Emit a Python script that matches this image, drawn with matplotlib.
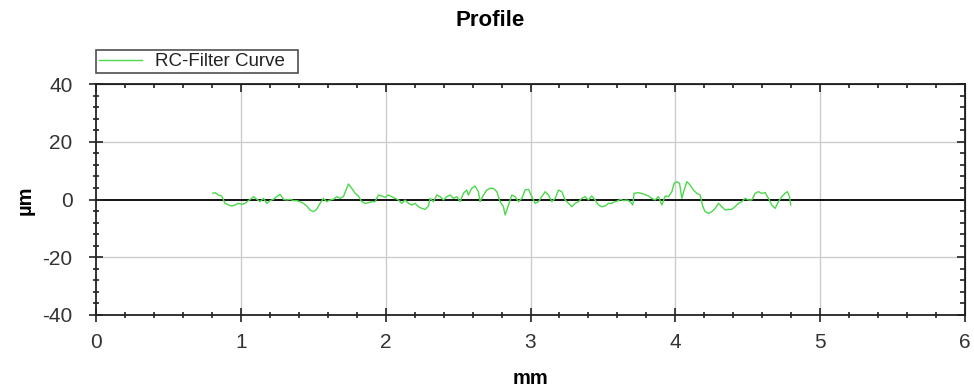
import matplotlib
matplotlib.use('Agg')
import matplotlib.pyplot as plt
from matplotlib.ticker import MultipleLocator

plt.rcParams['font.family'] = ['Liberation Sans', 'DejaVu Sans']
plt.rcParams['axes.unicode_minus'] = False

# profile data (mm, um)
x_mm = [0.806, 0.822, 0.845, 0.868, 0.891, 0.914, 0.937, 0.960, 0.983, 1.006,
        1.029, 1.052, 1.075, 1.087, 1.110, 1.133, 1.156, 1.179, 1.202, 1.225,
        1.248, 1.271, 1.294, 1.317, 1.340, 1.363, 1.386, 1.409, 1.432, 1.455,
        1.478, 1.501, 1.524, 1.547, 1.570, 1.593, 1.616, 1.639, 1.662,
        1.685, 1.708, 1.731, 1.743, 1.766, 1.789, 1.812, 1.835, 1.858, 1.881,
        1.904, 1.927, 1.950, 1.973, 1.996, 2.019, 2.042, 2.065, 2.088, 2.111,
        2.134, 2.157, 2.180, 2.203, 2.226, 2.249, 2.272, 2.295, 2.307, 2.330,
        2.353, 2.376, 2.399, 2.422, 2.445, 2.468, 2.491, 2.514, 2.537, 2.560,
        2.571, 2.594, 2.617, 2.640,
        2.652, 2.675, 2.698, 2.721, 2.744, 2.767, 2.790, 2.813, 2.825, 2.848,
        2.871, 2.894, 2.917, 2.940, 2.963, 2.986, 3.009, 3.032, 3.055, 3.078,
        3.101, 3.124, 3.147, 3.170, 3.193, 3.216, 3.239, 3.262, 3.285, 3.308,
        3.331, 3.354, 3.377, 3.400, 3.423, 3.446, 3.469, 3.492, 3.515, 3.538,
        3.561, 3.584, 3.607,
        3.619, 3.642, 3.665, 3.688, 3.706, 3.715, 3.745, 3.780, 3.814, 3.837,
        3.860, 3.883, 3.907, 3.930, 3.953, 3.976, 3.992, 4.010, 4.029, 4.045,
        4.061, 4.079, 4.102, 4.125, 4.148, 4.171, 4.190, 4.206, 4.229, 4.252,
        4.275, 4.298, 4.321, 4.344, 4.367, 4.390, 4.413, 4.436, 4.459, 4.482,
        4.505, 4.528, 4.551, 4.574, 4.597, 4.620, 4.643, 4.666, 4.689, 4.712,
        4.735, 4.758, 4.774, 4.788, 4.797]

y_um = [2.14, 2.37, 1.56, 1.21, -1.33, -1.90, -2.25, -1.90, -1.33, -1.67,
        -1.33, -0.40, 0.40, 0.98, 0.06, -0.75, 0.40, -1.33, -0.40, 0.06,
        0.98, 1.79, 0.06, -0.17, 0.06, -0.40, -0.40, -0.75, -1.33, -2.25,
        -3.64, -4.21, -3.41, -1.33, 0.40, -0.75, -0.17, 0.06, 0.98,
        0.40, 0.98, 3.87, 5.37, 3.87, 2.14, 1.21, -0.75, -1.33, -1.10,
        -0.75, -0.75, 1.56, 1.21, 0.75, 1.56, 0.98, 0.40, -0.17, -1.33,
        -0.17, -1.33, -1.90, -1.33, -2.48, -3.06, -3.41, -2.25, 0.40, -0.75,
        1.56, 0.98, -0.17, 0.98, 1.56, 0.40, 0.98, -0.75, 2.14, 3.29,
        1.56, 3.87, 4.67, 2.71,
        -0.75, 1.56, 3.29, 3.87, 3.87, 2.71, -0.75, -2.48, -5.37, -1.90,
        1.56, 0.98, -0.75, 0.40, 3.29, 3.52, 0.98, -1.33, -0.75, 0.98,
        2.71, 1.56, -0.75, 0.40, 3.29, 2.71, -0.17, -1.33, -2.48, -1.33,
        -0.75, 0.40, 0.98, -0.17, 1.21, -0.17, -1.90, -2.48, -2.25, -1.33,
        -1.33, -0.75, -0.40,
        0.06, -0.40, -0.17, -0.75, -1.90, 2.14, 2.37, 1.91, 1.21, 0.40,
        -0.17, 0.98, -1.90, 1.21, 0.98, 2.71, 5.60, 6.18, 5.60, 0.40,
        3.29, 6.18, 5.02, 3.29, 2.14, 1.56, -2.48, -4.21, -4.79, -4.21,
        -3.06, -1.33, -2.48, -3.64, -3.41, -3.41, -2.48, -1.33, -0.75, 0.40,
        -0.17, -0.17, 2.14, 2.71, 2.14, 2.37, 0.40, -1.90, -3.06, -0.75,
        0.98, 2.14, 2.71, 0.98, -1.90]

x_ticks = [0, 1, 2, 3, 4, 5, 6]
y_ticks = [-40, -20, 0, 20, 40]

fig = plt.figure(figsize=(9.74, 3.87), dpi=100)
ax = fig.add_axes([96 / 974, 1 - 315 / 387, 869 / 974, 231 / 387])

# grid and zero line
for gx in x_ticks[1:-1]:
    ax.axvline(gx, color='#cccccc', lw=1, zorder=0)
for gy in [-20, 20]:
    ax.axhline(gy, color='#cccccc', lw=1, zorder=0)
ax.axhline(0, color='#111111', lw=1.4, zorder=1)

line, = ax.plot(x_mm, y_um, color='#4cd84c', lw=1, zorder=2, label='RC-Filter Curve')

ax.set_xlim(0, 6)
ax.set_ylim(-40, 40)
ax.set_xticks(x_ticks)
ax.set_yticks(y_ticks)
ax.xaxis.set_minor_locator(MultipleLocator(0.2))
ax.yaxis.set_minor_locator(MultipleLocator(4))

for s in ax.spines.values():
    s.set_linewidth(1.3)
    s.set_color('#222222')

ax.tick_params(which='major', direction='inout', length=10, width=1.2,
               labelsize=15, colors='#222222', labelcolor='#333333',
               top=False, right=False)
ax.tick_params(which='minor', direction='inout', length=5, width=1.2,
               colors='#222222', top=False, right=False)
ax.tick_params(axis='x', which='major', pad=8)
ax.tick_params(axis='y', which='major', pad=12)

# top and right ticks point inward
top = ax.secondary_xaxis('top')
top.set_xticks(x_ticks)
top.xaxis.set_minor_locator(MultipleLocator(0.2))
top.tick_params(which='major', direction='in', length=6, width=1.2, labeltop=False, colors='#222222')
top.tick_params(which='minor', direction='in', length=3, width=1.2, colors='#222222')
right = ax.secondary_yaxis('right')
right.set_yticks(y_ticks)
right.yaxis.set_minor_locator(MultipleLocator(4))
right.tick_params(which='major', direction='in', length=6, width=1.2, labelright=False, colors='#222222')
right.tick_params(which='minor', direction='in', length=3.5, width=1.2, colors='#222222')

fig.text(490 / 974, 1 - 20 / 387, 'Profile', ha='center', va='center',
         fontsize=16, fontweight='bold')
fig.text(530 / 974, 1 - 378 / 387, 'mm', ha='center', va='center',
         fontsize=14.5, fontweight='bold')
fig.text(25 / 974, 1 - 200 / 387, 'µm', ha='center', va='center',
         fontsize=14.5, fontweight='bold', rotation=90)

leg = fig.legend(handles=[line], loc='lower left',
                 bbox_to_anchor=(96 / 974, 1 - 73 / 387, 202 / 974, 22 / 387),
                 mode='expand', fontsize=13.5, frameon=True, fancybox=False,
                 borderpad=0.15, handlelength=2.3, handletextpad=0.7,
                 borderaxespad=0)
leg.get_frame().set_edgecolor('#222222')
leg.get_frame().set_linewidth(1.2)
for t in leg.get_texts():
    t.set_color('#222222')

fig.savefig('out.png', dpi=100)
